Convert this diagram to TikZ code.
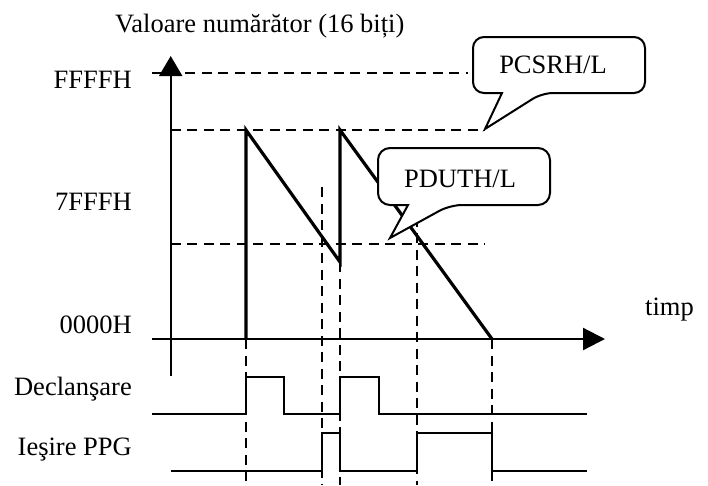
\documentclass[tikz,border=0pt]{standalone}
\usepackage{fontspec}
\setmainfont{Liberation Serif}
\usetikzlibrary{arrows.meta}
\begin{document}
\begin{tikzpicture}[x=1pt,y=-1pt,
  lbl/.style={font=\fontsize{26.5}{30}\selectfont, inner sep=0pt},
  axisline/.style={line width=2.2pt},
  guide/.style={line width=2pt, dash pattern=on 10pt off 6.5pt},
  ramp/.style={line width=3.2pt, line join=miter},
  sig/.style={line width=2pt},
  callout/.style={line width=2pt, fill=white, line join=miter}]
\useasboundingbox (0,0) rectangle (708,485);

% axis points
\coordinate (ytop) at (170.7,56);
\coordinate (ybot) at (170.7,376);
\coordinate (xl) at (152,339);
\coordinate (xr) at (605,339);

% horizontal guides
\coordinate (hF1) at (152,73.3);  \coordinate (hF2) at (468,73.3);
\coordinate (hP1) at (170.7,130); \coordinate (hP2) at (485,130);
\coordinate (hD1) at (170.7,244); \coordinate (hD2) at (485,244);

% ramp points
\coordinate (r1b) at (246,339);
\coordinate (r1t) at (246,130);
\coordinate (r1e) at (340,262);
\coordinate (r2t) at (340,130);
\coordinate (r2e) at (492,339);

% vertical guides
\coordinate (v1a) at (246,339); \coordinate (v1b) at (246,485);
\coordinate (v2a) at (322,187); \coordinate (v2b) at (322,485);
\coordinate (v3a) at (340,262); \coordinate (v3b) at (340,485);
\coordinate (v4a) at (417,200); \coordinate (v4b) at (417,485);
\coordinate (v5a) at (492,339); \coordinate (v5b) at (492,485);

\draw[guide] (hF1) -- (hF2);
\draw[guide] (hP1) -- (hP2);
\draw[guide] (hD1) -- (hD2);
\foreach \a/\b in {v1a/v1b,v2a/v2b,v3a/v3b,v4a/v4b,v5a/v5b}
  \draw[guide] (\a) -- (\b);

% axes
\draw[axisline, -{Triangle[length=20pt,width=23pt]}] (ybot) -- (ytop);
\draw[axisline, -{Triangle[length=22pt,width=22pt]}] (xl) -- (xr);

% ramps
\draw[ramp] (r1b) -- (r1t) -- (r1e) -- (r2t) -- (r2e);

% signals
\coordinate (d0) at (152,414);
\draw[sig] (d0) -- (246,414) -- (246,377) -- (284,377) -- (284,414) -- (340,414)
  -- (340,377) -- (379,377) -- (379,414) -- (587,414);
\coordinate (p0) at (171,471);
\draw[sig] (p0) -- (322,471) -- (322,433) -- (340,433) -- (340,471) -- (417,471)
  -- (417,433) -- (492,433) -- (492,471) -- (587,471);

% callouts
\draw[callout] (485,129) -- (502,93) [rounded corners=11pt] -- (473,93) -- (473,37)
  -- (645,37) -- (645,93) -- (542,93) [sharp corners] -- cycle;
\node[lbl, anchor=base] (pcsr) at (553,73) {PCSRH/L};

\draw[callout] (390,238) -- (408,205) [rounded corners=12pt] -- (378,205) -- (378,148)
  -- (550,148) -- (550,205) -- (450,205) [sharp corners] -- cycle;
\node[lbl, anchor=base] (pdut) at (460,187) {PDUTH/L};

% labels
\node[lbl, anchor=base west] (title) at (115,32) {Valoare numărător (16 biți)};
\node[lbl, anchor=base east] (lF) at (132,88) {FFFFH};
\node[lbl, anchor=base east] (l7) at (132,210) {7FFFH};
\node[lbl, anchor=base east] (l0) at (132,333) {0000H};
\node[lbl, anchor=base east] (ld) at (132,395) {Declanşare};
\node[lbl, anchor=base east] (lp) at (132,455) {Ieşire PPG};
\node[lbl, anchor=base west] (lt) at (645,315) {timp};
\end{tikzpicture}
\end{document}
